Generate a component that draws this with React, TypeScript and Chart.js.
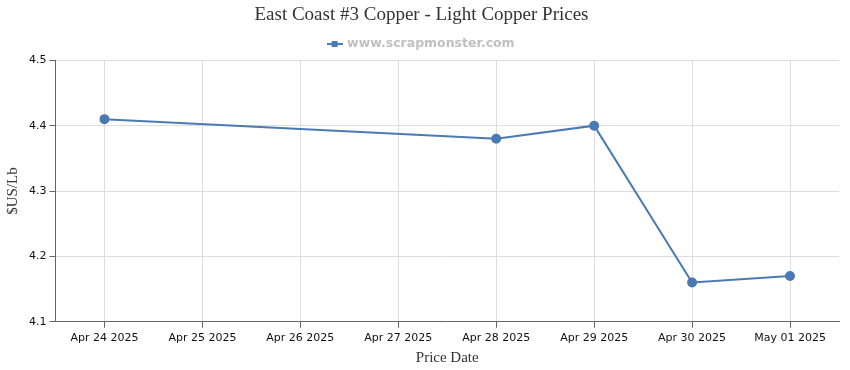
import React, { useEffect, useRef } from "react";
import { Chart, registerables } from "chart.js";

Chart.register(...registerables);

const categories = [
  "Apr 24 2025",
  "Apr 25 2025",
  "Apr 26 2025",
  "Apr 27 2025",
  "Apr 28 2025",
  "Apr 29 2025",
  "Apr 30 2025",
  "May 01 2025",
];
const prices: (number | null)[] = [4.41, null, null, null, 4.38, 4.4, 4.16, 4.17];
const seriesName = "www.scrapmonster.com";
const chartTitle = "East Coast #3 Copper - Light Copper Prices";
const yTitle = "$US/Lb";
const xTitle = "Price Date";
const yMin = 4.1;
const yMax = 4.5;
const yStep = 0.1;

const LINE_COLOR = "#4a7ab4";

function makeLegendMarker(): HTMLCanvasElement {
  const c = document.createElement("canvas");
  c.width = 16;
  c.height = 8;
  const ctx = c.getContext("2d")!;
  ctx.strokeStyle = LINE_COLOR;
  ctx.lineWidth = 2;
  ctx.beginPath();
  ctx.moveTo(0, 4);
  ctx.lineTo(16, 4);
  ctx.stroke();
  ctx.fillStyle = LINE_COLOR;
  ctx.fillRect(5, 1, 6, 6);
  return c;
}

export default function App() {
  const ref = useRef<HTMLCanvasElement | null>(null);
  useEffect(() => {
    document.body.style.margin = "0";
    const marker = makeLegendMarker();
    const chart = new Chart(ref.current!, {
      type: "line",
      data: {
        labels: categories,
        datasets: [
          {
            label: seriesName,
            data: prices,
            borderColor: LINE_COLOR,
            backgroundColor: LINE_COLOR,
            borderWidth: 2,
            pointRadius: 4,
            pointHoverRadius: 4,
            pointBackgroundColor: LINE_COLOR,
            pointBorderColor: LINE_COLOR,
            spanGaps: true,
            tension: 0,
            fill: false,
          },
        ],
      },
      options: {
        responsive: false,
        animation: false,
        maintainAspectRatio: false,
        layout: { padding: { left: 4, right: 11, top: 0, bottom: 3 } },
        plugins: {
          title: {
            display: true,
            text: chartTitle,
            color: "#333333",
            font: { family: "'Liberation Serif', serif", size: 19, weight: "normal" },
            padding: { top: 4, bottom: 0 },
          },
          legend: {
            display: true,
            labels: {
              color: "#c0c0c0",
              font: { family: "'DejaVu Sans', sans-serif", size: 12.5, weight: "bold" },
              usePointStyle: true,
              boxHeight: 8,
              padding: 11,
              generateLabels: (ch: any) => {
                const items = Chart.defaults.plugins.legend.labels.generateLabels(ch);
                return items.map((it: any) => ({ ...it, pointStyle: marker }));
              },
            },
          },
          tooltip: { enabled: false },
        },
        scales: {
          x: {
            offset: true,
            grid: {
              color: "#dddddd",
              offset: false,
              drawTicks: true,
              tickLength: 6,
              tickColor: "#666666",
            },
            border: { color: "#666666", width: 1 },
            ticks: {
              color: "#111111",
              font: { family: "'DejaVu Sans', sans-serif", size: 11 },
              maxRotation: 0,
              autoSkip: false,
              padding: 4,
            },
            title: {
              display: true,
              text: xTitle,
              color: "#333333",
              font: { family: "'Liberation Serif', serif", size: 15 },
              padding: { top: 0, bottom: 0 },
              align: "center",
            },
          },
          y: {
            min: yMin,
            max: yMax,
            grid: {
              color: "#dddddd",
              drawTicks: true,
              tickLength: 6,
              tickColor: "#666666",
            },
            border: { color: "#666666", width: 1 },
            ticks: {
              stepSize: yStep,
              color: "#111111",
              font: { family: "'DejaVu Sans', sans-serif", size: 11 },
              padding: 3,
              callback: (v: any) => Number(v).toFixed(1),
            },
            title: {
              display: true,
              text: yTitle,
              color: "#333333",
              font: { family: "'Liberation Serif', serif", size: 15 },
              padding: { top: 0, bottom: 4 },
            },
          },
        },
      },
    } as any);
    return () => chart.destroy();
  }, []);
  return (
    <div style={{ width: 850, height: 370 }}>
      <canvas ref={ref} width={850} height={370} style={{ display: "block" }} />
    </div>
  );
}
